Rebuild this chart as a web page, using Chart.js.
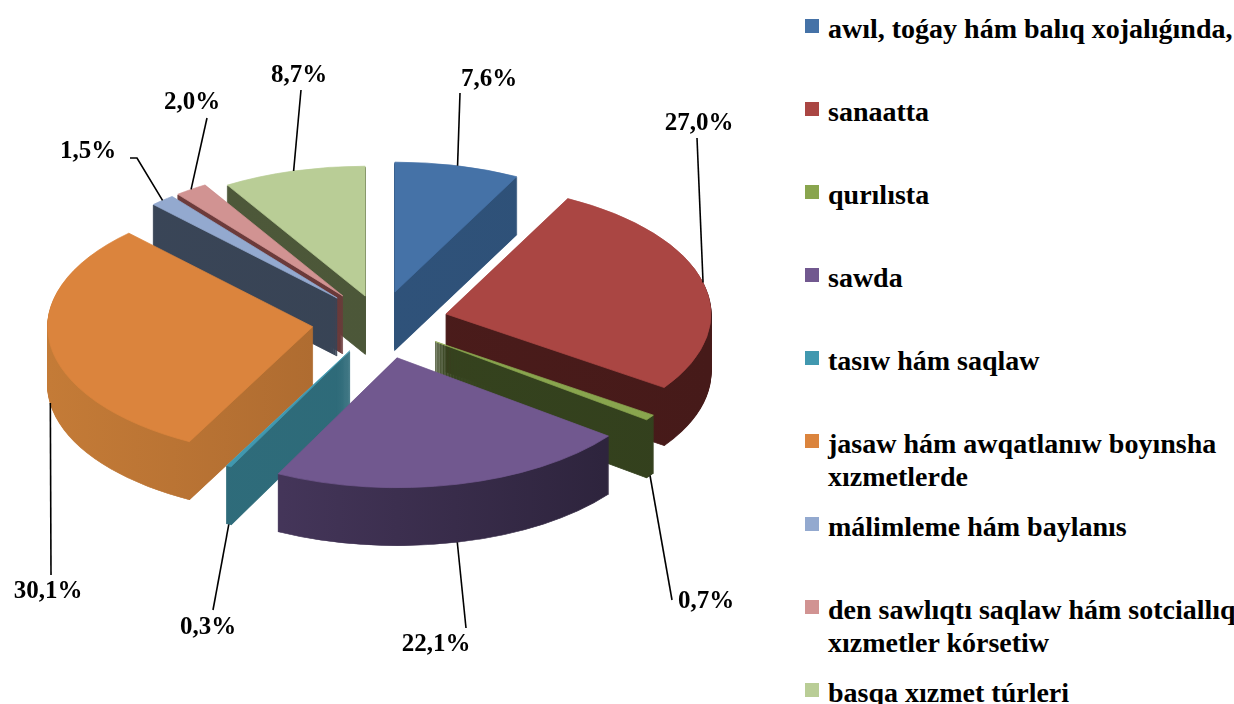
<!DOCTYPE html>
<html>
<head>
<meta charset="utf-8">
<script src="https://cdn.jsdelivr.net/npm/chart.js@4"></script>
<style>
html, body { margin: 0; padding: 0; background: #fff; overflow: hidden; }
#wrap { position: relative; width: 1234px; height: 704px; }
#pieBox { position: absolute; left: 0; top: 0; width: 790px; height: 704px; }
.leg { position: absolute; left: 805px; width: 440px; font: bold 28px "Liberation Serif", "Times New Roman", serif; line-height: 33px; color: #000; }
.leg i { position: absolute; left: 0; top: 7px; width: 14px; height: 14px; }
.leg span { display: block; margin-left: 23px; width: 412px; }
</style>
</head>
<body>
<div id="wrap">
  <div id="pieBox"><canvas id="shareChart"></canvas></div>
  <div id="legend"></div>
</div>
<script>
const categories = [
    'awıl, toǵay hám balıq xojalıǵında,',
    'sanaatta',
    'qurılısta',
    'sawda',
    'tasıw hám saqlaw',
    'jasaw hám awqatlanıw boyınsha xızmetlerde',
    'málimleme hám baylanıs',
    'den sawlıqtı saqlaw hám sotciallıq xızmetler kórsetiw',
    'basqa xızmet túrleri'
];
const shares = [7.6, 27.0, 0.7, 22.1, 0.3, 30.1, 1.5, 2.0, 8.7];

const topColors = ['#4572A7', '#AA4643', '#89A54E', '#71588F', '#4198AF', '#DB843D', '#93A9CF', '#D19392', '#B9CD96'];
const sideColors = [
    ['#30547c', '#2e5077'],
    ['#4e1d1c', '#461a19'],
    ['#37451f', '#33401d'],
    ['#4e3d66', '#2a2138'],
    ['#2f6d7c', '#2d6876'],
    ['#c47b37', '#9a5d2a'],
    ['#3a4658', '#364152'],
    ['#6e3c3c', '#663737'],
    ['#4e593a', '#4a5537']
];
// how far each slice is pulled out (px, before tilt)
const explode = [63, 68, 68, 75, 66, 68, 65, 65, 55];
// label text centre x, y, then leader end x, y, optional elbow x, y
const labelSpots = [
    [489, 80, 460, 93],
    [699, 124, 697, 138],
    [706, 602, 672, 600],
    [436, 645, 466, 628],
    [208, 628, 213, 610],
    [48, 592, 51, 575],
    [88, 152, 130, 158, 137, 158],
    [192, 103, 207, 118],
    [299, 76, 301, 90]
];

const TILT = 0.49;
const DEPTH = 58;
const LABEL_FONT = 'bold 25px "Liberation Serif", "Times New Roman", serif';

function midAngle(a) {
    return (a.startAngle + a.endAngle) / 2;
}

const pseudo3d = {
    id: 'pseudo3d',
    beforeDatasetsDraw(chart) {
        const ctx = chart.ctx;
        const arcs = chart.getDatasetMeta(0).data;
        const cy = arcs[0].y;
        const order = arcs.map((a, i) => i)
            .sort((i, j) => Math.sin(midAngle(arcs[i])) - Math.sin(midAngle(arcs[j])));

        order.forEach(i => {
            const a = arcs[i];
            const m = midAngle(a);
            const ox = Math.cos(m) * explode[i];
            const oy = Math.sin(m) * explode[i];
            const g = ctx.createLinearGradient(a.x - a.outerRadius, 0, a.x + a.outerRadius, 0);
            g.addColorStop(0, sideColors[i][0]);
            g.addColorStop(1, sideColors[i][1]);

            // stack the slice downwards to get the thickness
            for (let k = DEPTH; k >= 1; k--) {
                ctx.save();
                ctx.translate(0, cy + k);
                ctx.scale(1, TILT);
                ctx.translate(ox, oy - cy);
                ctx.beginPath();
                ctx.moveTo(a.x, a.y);
                ctx.arc(a.x, a.y, a.outerRadius, a.startAngle, a.endAngle);
                ctx.closePath();
                ctx.fillStyle = g;
                ctx.strokeStyle = g;
                ctx.lineWidth = 1.2;
                ctx.fill();
                ctx.stroke();
                ctx.restore();
            }

            ctx.save();
            ctx.translate(0, cy);
            ctx.scale(1, TILT);
            ctx.translate(ox, oy - cy);
            a.draw(ctx);
            ctx.restore();
        });
        return false;
    },
    afterDraw(chart) {
        const ctx = chart.ctx;
        const arcs = chart.getDatasetMeta(0).data;
        ctx.save();
        ctx.strokeStyle = '#000';
        ctx.lineWidth = 1.6;
        ctx.fillStyle = '#000';
        ctx.font = LABEL_FONT;
        ctx.textAlign = 'center';
        ctx.textBaseline = 'middle';
        arcs.forEach((a, i) => {
            const m = midAngle(a);
            const r = explode[i] + a.outerRadius;
            const px = a.x + Math.cos(m) * r;
            let py = a.y + Math.sin(m) * r * TILT;
            if (Math.sin(m) > 0) py += DEPTH;
            const s = labelSpots[i];
            ctx.beginPath();
            ctx.moveTo(px, py);
            if (s.length > 4) ctx.lineTo(s[4], s[5]);
            ctx.lineTo(s[2], s[3]);
            ctx.stroke();
            ctx.fillText(shares[i].toFixed(1).replace('.', ',') + '%', s[0], s[1]);
        });
        ctx.restore();
    }
};

// legend as html so long names can wrap
const legend = document.getElementById('legend');
categories.forEach((name, i) => {
    const item = document.createElement('div');
    item.className = 'leg';
    item.style.top = (12 + 83 * i) + 'px';
    item.innerHTML = '<i style="background:' + topColors[i] + '"></i><span></span>';
    item.querySelector('span').textContent = name;
    legend.appendChild(item);
});

new Chart(document.getElementById('shareChart'), {
    type: 'pie',
    data: {
        labels: categories,
        datasets: [{
            data: shares,
            backgroundColor: topColors,
            borderColor: topColors,
            borderWidth: 1,
            radius: 265
        }]
    },
    options: {
        responsive: true,
        maintainAspectRatio: false,
        animation: false,
        events: [],
        layout: {
            padding: { left: 0, right: 30, top: 0, bottom: 60 }
        },
        plugins: {
            legend: { display: false },
            tooltip: { enabled: false }
        }
    },
    plugins: [pseudo3d]
});
</script>
</body>
</html>
